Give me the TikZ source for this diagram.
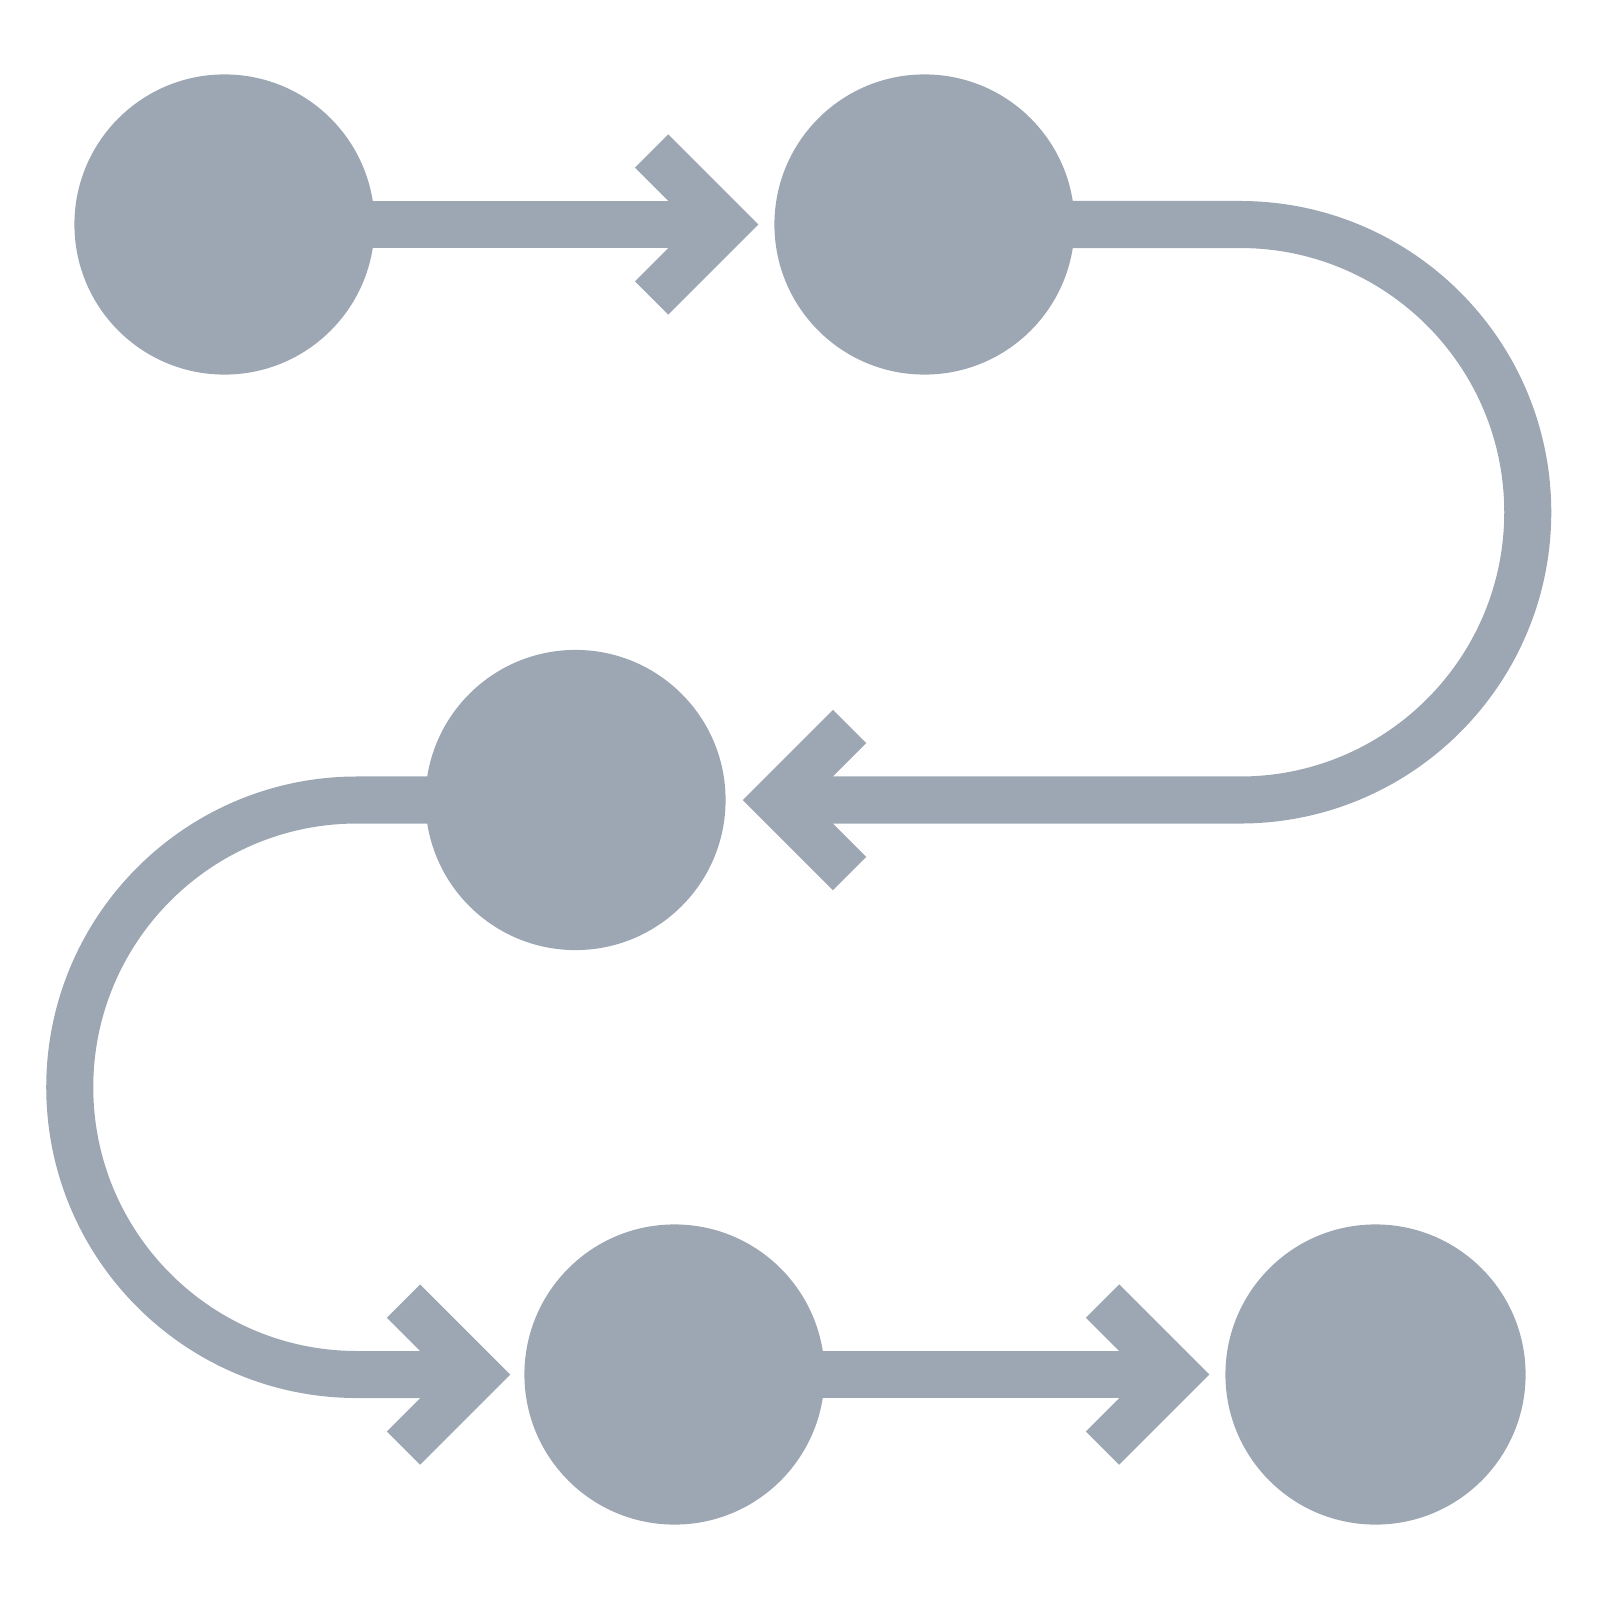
\documentclass[tikz,border=0pt]{standalone}
\definecolor{stepgray}{HTML}{9DA7B3}
\begin{document}
\begin{tikzpicture}[x=0.01cm, y=-0.01cm,
	stop/.style={circle, fill=stepgray, minimum size=3cm, inner sep=0pt},
	flow/.style={draw=stepgray, line width=0.47cm},
	chevron/.style={flow, line join=miter}]
\useasboundingbox (0,0) rectangle (1600,1600);
\node[stop] (s11) at (224.5, 224.5) {};
\node[stop] (s12) at (924.5, 224.5) {};
\node[stop] (s21) at (575.5, 800) {};
\node[stop] (s31) at (674.5, 1374.5) {};
\node[stop] (s32) at (1375.5, 1374.5) {};
\coordinate (t1) at (725, 224.5);
\coordinate (t2) at (776, 800);
\coordinate (t3) at (477, 1374.5);
\coordinate (t4) at (1176, 1374.5);
\draw[flow] (s11.center) -- (t1);
\draw[chevron] (t1) ++(-73.5,-73.5) -- (t1) -- +(-73.5,73.5);
\draw[flow] (s12.center) -- (1240, 224.5) arc[start angle=-90, end angle=90, radius=287.75] -- (t2);
\draw[chevron] (t2) ++(73.5,-73.5) -- (t2) -- +(73.5,73.5);
\draw[flow] (s21.center) -- (357, 800) arc[start angle=-90, end angle=-270, radius=287.25] -- (t3);
\draw[chevron] (t3) ++(-73.5,-73.5) -- (t3) -- +(-73.5,73.5);
\draw[flow] (s31.center) -- (t4);
\draw[chevron] (t4) ++(-73.5,-73.5) -- (t4) -- +(-73.5,73.5);
\end{tikzpicture}
\end{document}
